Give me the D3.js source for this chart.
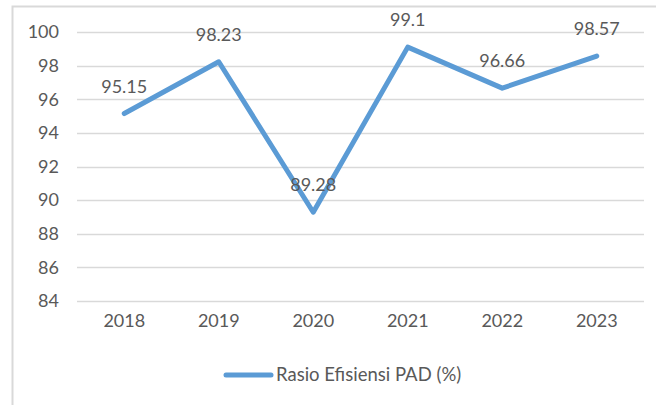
<!DOCTYPE html>
<html>
<head>
<meta charset="utf-8">
<script src="https://cdn.jsdelivr.net/npm/d3@7"></script>
<style>
  body { margin: 0; background: #fff; }
  svg { display: block; }
  text { font-family: Lato, "Liberation Sans", sans-serif; fill: #595959; }
</style>
</head>
<body>
<svg id="chart" width="656" height="405"></svg>
<script>
// chart data
var years = ['2018', '2019', '2020', '2021', '2022', '2023'];
var rasio = [95.15, 98.23, 89.28, 99.1, 96.66, 98.57];
var yTicks = [84, 86, 88, 90, 92, 94, 96, 98, 100];
var seriesName = 'Rasio Efisiensi PAD (%)';

var svg = d3.select('#chart');
var color = '#5b9bd5';

// outer chart border (right/bottom fall outside the picture)
svg.append('rect')
  .attr('x', 12.5).attr('y', 6.5)
  .attr('width', 700).attr('height', 450)
  .attr('fill', 'none')
  .attr('stroke', '#d9d9d9')
  .attr('stroke-width', 2);

var plot = { left: 77, right: 644, top: 32, bottom: 301 };

var x = d3.scaleBand()
  .domain(years)
  .range([plot.left, plot.right]);

var y = d3.scaleLinear()
  .domain([84, 100])
  .range([plot.bottom, plot.top]);

// gridlines
svg.append('g').selectAll('line')
  .data(yTicks)
  .enter().append('line')
  .attr('x1', plot.left).attr('x2', plot.right)
  .attr('y1', function (d) { return Math.round(y(d)) + 0.5; })
  .attr('y2', function (d) { return Math.round(y(d)) + 0.5; })
  .attr('stroke', '#d9d9d9')
  .attr('stroke-width', 1.5);

// y axis labels
var yAxis = d3.axisLeft(y).tickValues(yTicks).tickSize(0).tickPadding(0);
var gy = svg.append('g')
  .attr('transform', 'translate(59,0)')
  .call(yAxis);
gy.select('.domain').remove();
gy.selectAll('text')
  .attr('font-size', 18)
  .attr('font-family', 'Lato, "Liberation Sans", sans-serif')
  .attr('fill', '#595959');

// x axis labels
var xAxis = d3.axisBottom(x).tickSize(0).tickPadding(0);
var gx = svg.append('g')
  .attr('transform', 'translate(0,' + (plot.bottom + 13) + ')')
  .call(xAxis);
gx.select('.domain').remove();
gx.selectAll('text')
  .attr('font-size', 18)
  .attr('font-family', 'Lato, "Liberation Sans", sans-serif')
  .attr('fill', '#595959');

var cx = function (d, i) { return x(years[i]) + x.bandwidth() / 2; };

// line
var line = d3.line()
  .x(function (d, i) { return cx(d, i); })
  .y(function (d) { return y(d); });

svg.append('path')
  .datum(rasio)
  .attr('d', line)
  .attr('fill', 'none')
  .attr('stroke', color)
  .attr('stroke-width', 5)
  .attr('stroke-linejoin', 'round')
  .attr('stroke-linecap', 'round');

// data labels
svg.append('g').selectAll('text')
  .data(rasio)
  .enter().append('text')
  .attr('x', cx)
  .attr('y', function (d) { return y(d) - 21; })
  .attr('text-anchor', 'middle')
  .attr('font-size', 18)
  .text(function (d) { return String(d); });

// legend
var legend = svg.append('g').attr('transform', 'translate(0,375)');
legend.append('line')
  .attr('x1', 226).attr('x2', 271)
  .attr('y1', 0).attr('y2', 0)
  .attr('stroke', color)
  .attr('stroke-width', 5)
  .attr('stroke-linecap', 'round');
legend.append('text')
  .attr('x', 276).attr('y', 6)
  .attr('font-size', 18.5)
  .text(seriesName);
</script>
</body>
</html>
